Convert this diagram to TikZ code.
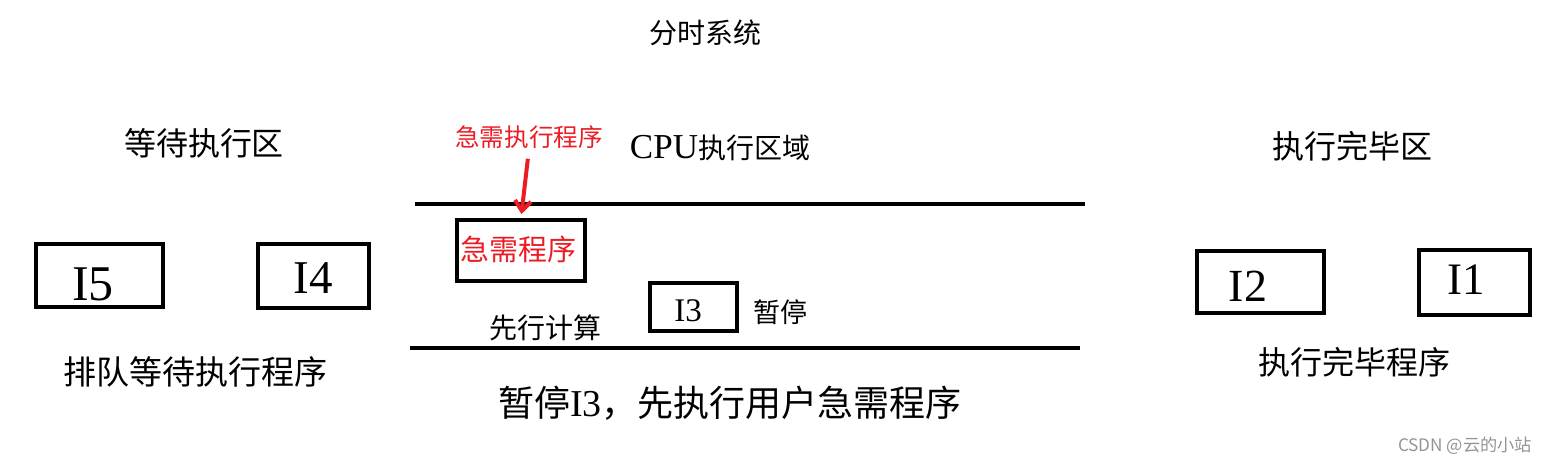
\documentclass[tikz,border=0pt]{standalone}
\usepackage{fontspec}
\setmainfont{Liberation Serif}
\newfontfamily\cjk{Noto Sans CJK SC}
\usetikzlibrary{arrows.meta}
\definecolor{paintred}{RGB}{237,28,36}
\newcommand{\fs}[1]{\fontsize{#1}{#1}\selectfont}

\begin{document}
\begin{tikzpicture}[x=0.5pt,y=-0.5pt,
        txt/.style={inner sep=0pt},
        prog/.style={draw,line width=2pt,inner sep=0pt},
        urgarrow/.style={paintred,line width=2pt,-{Straight Barb[length=5pt,width=8pt]}}]
        \useasboundingbox (0,0) rectangle (1549,464);
        % headings
        \node[txt] (title) at (705,33) {\cjk\fs{14pt}分时系统};
        \node[txt] (waitlbl) at (204,143) {\cjk\fs{16pt}等待执行区};
        \node[txt,text=paintred] (urglbl) at (529,137) {\cjk\fs{12.3pt}急需执行程序};
        \node[txt] (cpulbl) at (720,148) {\fs{17.5pt}CPU{\cjk\fs{14pt}执行区域}};
        \node[txt] (donelbl) at (1352,146) {\cjk\fs{16pt}执行完毕区};
        % cpu area
        \draw[line width=2pt] (415,204) -- (1085,204);
        \draw[line width=2pt] (410,348) -- (1080,348);
        \node[prog,minimum width=64pt,minimum height=30.5pt] (urgbox) at (521,250.5) {};
        \node[txt,text=paintred] (urgtxt) at (518,249.5) {\cjk\fs{14.5pt}急需程序};
        \node[prog,minimum width=43.5pt,minimum height=24pt] (i3) at (693.5,307) {};
        \node[txt] (i3txt) at (688,311) {\fs{16.5pt}I3};
        \node[txt] (pauselbl) at (780,312) {\cjk\fs{13.5pt}暂停};
        \node[txt] (firstlbl) at (545,328) {\cjk\fs{14pt}先行计算};
        % waiting
        \node[prog,minimum width=63.5pt,minimum height=31.5pt] (i5) at (99.5,275.5) {};
        \node[txt] (i5txt) at (93,284.5) {\fs{25pt}I5};
        \node[prog,minimum width=55.5pt,minimum height=32pt] (i4) at (313.5,276) {};
        \node[txt] (i4txt) at (313,278.5) {\fs{23.5pt}I4};
        \node[txt] (queuelbl) at (195,372) {\cjk\fs{16.5pt}排队等待执行程序};
        % finished
        \node[prog,minimum width=63.5pt,minimum height=31pt] (i2) at (1260.5,282) {};
        \node[txt] (i2txt) at (1248,286.5) {\fs{23pt}I2};
        \node[prog,minimum width=55.5pt,minimum height=32.5pt] (i1) at (1474.5,282.5) {};
        \node[txt] (i1txt) at (1466.5,279.5) {\fs{22.5pt}I1};
        \node[txt] (finishlbl) at (1354,362) {\cjk\fs{16pt}执行完毕程序};
        \node[txt] (note) at (730,403) {\cjk\fs{18pt}暂停{\rmfamily\fs{19pt}I3}，先执行用户急需程序};
        \node[txt,text=black!42] (mark) at (1465,446) {\cjk\fs{8.6pt}CSDN @云的小站};
        \draw[urgarrow,shorten <=5pt,shorten >=2pt] (urglbl.south) -- (urgbox.north);
\end{tikzpicture}
\end{document}
